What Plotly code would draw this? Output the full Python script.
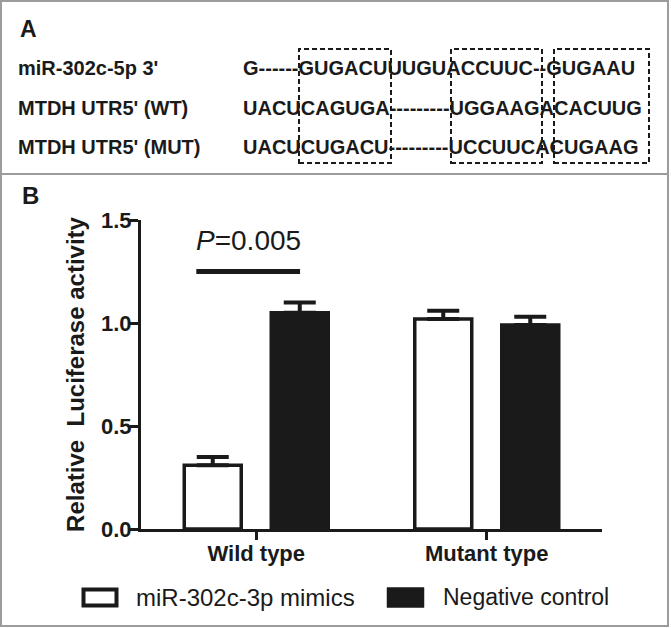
import plotly.graph_objects as go

# ---- data ----
groups = ["Wild type", "Mutant type"]
series_names = ["miR-302c-3p mimics", "Negative control"]
mimics = [0.31, 1.02]
mimics_err = [0.04, 0.04]
control = [1.05, 0.99]
control_err = [0.05, 0.04]
p_value = 0.005

row_labels = ["miR-302c-5p 3'", "MTDH UTR5' (WT)", "MTDH UTR5' (MUT)"]
sequences = [
    "G------GUGACUUUGUACCUUC--GUGAAU",
    "UACUCAGUGA---------UGGAAGACACUUG",
    "UACUCUGACU---------UCCUUCACUGAAG",
]

FONT = "Liberation Sans, Arial, Helvetica, sans-serif"
INK = "#1a1a1a"
W, H = 671, 628
L, R, T, B = 141, 69, 220, 99


# pixel -> paper helpers (for the decoration around the plot)
def px(x):
    return (x - L) / (W - L - R)


def py(y):
    return (H - B - y) / (H - T - B)


fig = go.Figure()

fig.add_trace(go.Bar(
    x=groups, y=mimics, name=series_names[0],
    marker=dict(color="white", line=dict(color=INK, width=3.5)),
    error_y=dict(type="data", symmetric=False, array=mimics_err,
                 arrayminus=[0] * len(mimics), color=INK, thickness=4, width=16),
    showlegend=False,
))
fig.add_trace(go.Bar(
    x=groups, y=control, name=series_names[1],
    marker=dict(color=INK, line=dict(color=INK, width=3.5)),
    error_y=dict(type="data", symmetric=False, array=control_err,
                 arrayminus=[0] * len(control), color=INK, thickness=4, width=16),
    showlegend=False,
))

shapes = []
annotations = []

# outer frame and panel separator
shapes.append(dict(type="rect", xref="paper", yref="paper",
                   x0=px(1), x1=px(668), y0=py(626), y1=py(1),
                   line=dict(color="#9c9c9c", width=2), layer="below"))
shapes.append(dict(type="line", xref="paper", yref="paper",
                   x0=px(1), x1=px(668), y0=py(174), y1=py(174),
                   line=dict(color="#9c9c9c", width=2)))

# panel letters
annotations.append(dict(text="<b>A</b>", xref="paper", yref="paper", x=px(18), y=py(29),
                        xanchor="left", yanchor="middle", showarrow=False,
                        font=dict(size=23, color=INK, family=FONT)))
annotations.append(dict(text="<b>B</b>", xref="paper", yref="paper", x=px(20), y=py(195),
                        xanchor="left", yanchor="middle", showarrow=False,
                        font=dict(size=24, color=INK, family=FONT)))

# panel A: alignment rows
row_y = [68, 108, 147]
for lab, seq, yy in zip(row_labels, sequences, row_y):
    annotations.append(dict(text="<b>%s</b>" % lab, xref="paper", yref="paper",
                            x=px(16), y=py(yy), xanchor="left", yanchor="middle",
                            showarrow=False, font=dict(size=20, color=INK, family=FONT)))
    annotations.append(dict(text="<b>%s</b>" % seq, xref="paper", yref="paper",
                            x=px(241), y=py(yy), xanchor="left", yanchor="middle",
                            showarrow=False, font=dict(size=20, color=INK, family=FONT)))

# dashed boxes around seed / pairing regions
for x0, x1 in [(299, 391), (451, 542), (554, 649)]:
    shapes.append(dict(type="rect", xref="paper", yref="paper",
                       x0=px(x0), x1=px(x1), y0=py(163), y1=py(49),
                       line=dict(color=INK, width=2, dash="5px,3px")))

# significance bar
shapes.append(dict(type="line", xref="x", yref="y", x0=-0.26, x1=0.19, y0=1.25, y1=1.25,
                   line=dict(color=INK, width=5)))
annotations.append(dict(text="<i>P</i>=%.3f" % p_value, xref="x", yref="y",
                        x=-0.035, y=1.40, xanchor="center", yanchor="middle",
                        showarrow=False, font=dict(size=28, color=INK, family=FONT)))

# legend (drawn by hand to get the large boxes)
shapes.append(dict(type="rect", xref="paper", yref="paper",
                   x0=px(83.5), x1=px(116.5), y0=py(605.5), y1=py(589.5),
                   line=dict(color=INK, width=4), fillcolor="white"))
shapes.append(dict(type="rect", xref="paper", yref="paper",
                   x0=px(387), x1=px(424), y0=py(607.5), y1=py(587.5),
                   line=dict(color=INK, width=0.5), fillcolor=INK))
annotations.append(dict(text=series_names[0], xref="paper", yref="paper",
                        x=px(134), y=py(597), xanchor="left", yanchor="middle",
                        showarrow=False, font=dict(size=24, color=INK, family=FONT)))
annotations.append(dict(text=series_names[1], xref="paper", yref="paper",
                        x=px(441), y=py(597), xanchor="left", yanchor="middle",
                        showarrow=False, font=dict(size=23, color=INK, family=FONT)))

fig.update_layout(
    width=W, height=H,
    margin=dict(l=L, r=R, t=T, b=B),
    paper_bgcolor="white", plot_bgcolor="white",
    barmode="group", bargap=0.245, bargroupgap=0.345,
    font=dict(family=FONT, color=INK),
    shapes=shapes, annotations=annotations,
)
fig.update_xaxes(
    range=[-0.5, 1.5], showline=True, linewidth=3, linecolor=INK,
    ticks="outside", ticklen=8, tickwidth=3, tickcolor=INK,
    showgrid=False, zeroline=False, ticklabelstandoff=-5,
    tickfont=dict(size=22, color=INK, family=FONT),
    tickvals=groups, ticktext=["<b>%s</b>" % g for g in groups],
)
fig.update_yaxes(
    range=[0, 1.5], tickvals=[0, 0.5, 1.0, 1.5],
    ticktext=["<b>0.0</b>", "<b>0.5</b>", "<b>1.0</b>", "<b>1.5</b>"],
    showline=True, linewidth=3, linecolor=INK,
    ticks="outside", ticklen=8, tickwidth=3, tickcolor=INK,
    showgrid=False, zeroline=False, ticklabelstandoff=-6,
    tickfont=dict(size=22, color=INK, family=FONT),
    title=dict(text="<b>Relative  Luciferase activity</b>", standoff=10,
               font=dict(size=24, color=INK, family=FONT)),
)

# the page body has a default 8px margin; drop it so the figure sits at 0,0
fig.write_html("out.html", config={"displayModeBar": False},
               post_script="document.body.style.margin='0';")
